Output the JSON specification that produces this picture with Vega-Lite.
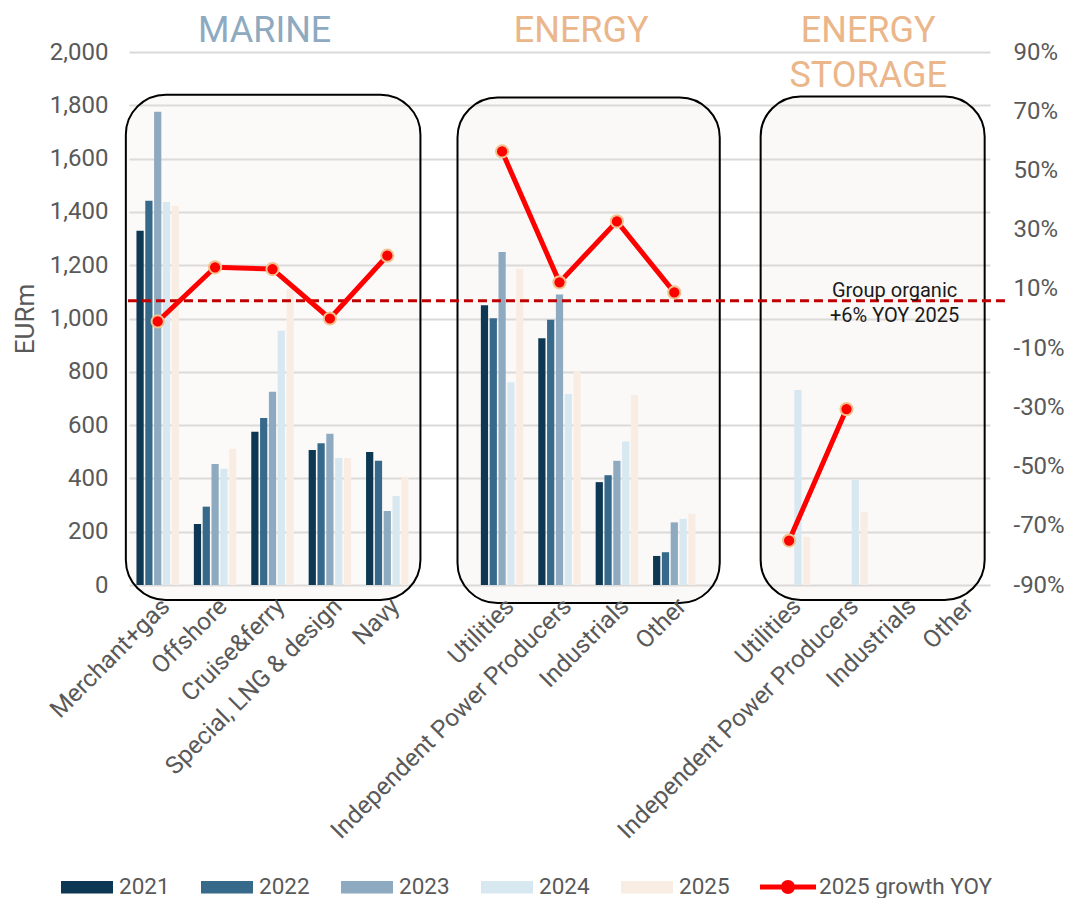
{
  "$schema": "https://vega.github.io/schema/vega-lite/v6.json",
  "width": 861,
  "height": 533,
  "autosize": {"type": "none"},
  "padding": {"left": 129, "top": 52, "right": 76, "bottom": 313},
  "background": "#ffffff",
  "config": {
    "font": "Roboto",
    "view": {"stroke": null},
    "axis": {
      "labelFont": "Roboto",
      "labelFontSize": 24,
      "labelColor": "#595959",
      "titleFont": "Roboto",
      "titleFontSize": 26,
      "titleFontWeight": "normal",
      "titleColor": "#595959",
      "domain": false,
      "ticks": false,
      "gridColor": "#d9d9d9",
      "gridWidth": 1.8
    },
    "legend": {
      "labelFont": "Roboto",
      "labelFontSize": 22.5,
      "labelColor": "#595959",
      "labelLimit": 400
    }
  },
  "datasets": {
    "sales": [
      {"cat": "M|Merchant+gas", "year": "2021", "value": 1329},
      {"cat": "M|Merchant+gas", "year": "2022", "value": 1442},
      {"cat": "M|Merchant+gas", "year": "2023", "value": 1776},
      {"cat": "M|Merchant+gas", "year": "2024", "value": 1437},
      {"cat": "M|Merchant+gas", "year": "2025", "value": 1423},
      {"cat": "M|Offshore", "year": "2021", "value": 229},
      {"cat": "M|Offshore", "year": "2022", "value": 294},
      {"cat": "M|Offshore", "year": "2023", "value": 454},
      {"cat": "M|Offshore", "year": "2024", "value": 436},
      {"cat": "M|Offshore", "year": "2025", "value": 511},
      {"cat": "M|Cruise&ferry", "year": "2021", "value": 575},
      {"cat": "M|Cruise&ferry", "year": "2022", "value": 627},
      {"cat": "M|Cruise&ferry", "year": "2023", "value": 725},
      {"cat": "M|Cruise&ferry", "year": "2024", "value": 954},
      {"cat": "M|Cruise&ferry", "year": "2025", "value": 1111},
      {"cat": "M|Special, LNG & design", "year": "2021", "value": 507},
      {"cat": "M|Special, LNG & design", "year": "2022", "value": 532},
      {"cat": "M|Special, LNG & design", "year": "2023", "value": 568},
      {"cat": "M|Special, LNG & design", "year": "2024", "value": 477},
      {"cat": "M|Special, LNG & design", "year": "2025", "value": 477},
      {"cat": "M|Navy", "year": "2021", "value": 499},
      {"cat": "M|Navy", "year": "2022", "value": 466},
      {"cat": "M|Navy", "year": "2023", "value": 278},
      {"cat": "M|Navy", "year": "2024", "value": 334},
      {"cat": "M|Navy", "year": "2025", "value": 404},
      {"cat": "E|Utilities", "year": "2021", "value": 1050},
      {"cat": "E|Utilities", "year": "2022", "value": 1001},
      {"cat": "E|Utilities", "year": "2023", "value": 1250},
      {"cat": "E|Utilities", "year": "2024", "value": 761},
      {"cat": "E|Utilities", "year": "2025", "value": 1187},
      {"cat": "E|Independent Power Producers", "year": "2021", "value": 926},
      {"cat": "E|Independent Power Producers", "year": "2022", "value": 995},
      {"cat": "E|Independent Power Producers", "year": "2023", "value": 1090},
      {"cat": "E|Independent Power Producers", "year": "2024", "value": 717},
      {"cat": "E|Independent Power Producers", "year": "2025", "value": 801},
      {"cat": "E|Industrials", "year": "2021", "value": 386},
      {"cat": "E|Industrials", "year": "2022", "value": 412},
      {"cat": "E|Industrials", "year": "2023", "value": 466},
      {"cat": "E|Industrials", "year": "2024", "value": 538},
      {"cat": "E|Industrials", "year": "2025", "value": 713},
      {"cat": "E|Other", "year": "2021", "value": 109},
      {"cat": "E|Other", "year": "2022", "value": 123},
      {"cat": "E|Other", "year": "2023", "value": 235},
      {"cat": "E|Other", "year": "2024", "value": 248},
      {"cat": "E|Other", "year": "2025", "value": 267},
      {"cat": "S|Utilities", "year": "2024", "value": 732},
      {"cat": "S|Utilities", "year": "2025", "value": 181},
      {"cat": "S|Independent Power Producers", "year": "2024", "value": 394},
      {"cat": "S|Independent Power Producers", "year": "2025", "value": 273}
    ],
    "growth": [
      {"cat": "M|Merchant+gas", "grp": "Marine", "growth": -1.0},
      {"cat": "M|Offshore", "grp": "Marine", "growth": 17.3},
      {"cat": "M|Cruise&ferry", "grp": "Marine", "growth": 16.7},
      {"cat": "M|Special, LNG & design", "grp": "Marine", "growth": 0.0},
      {"cat": "M|Navy", "grp": "Marine", "growth": 21.2},
      {"cat": "E|Utilities", "grp": "Energy", "growth": 56.4},
      {"cat": "E|Independent Power Producers", "grp": "Energy", "growth": 12.2},
      {"cat": "E|Industrials", "grp": "Energy", "growth": 32.8},
      {"cat": "E|Other", "grp": "Energy", "growth": 8.8},
      {"cat": "S|Utilities", "grp": "Energy storage", "growth": -75.0},
      {"cat": "S|Independent Power Producers", "grp": "Energy storage", "growth": -30.6}
    ],
    "sections": [
      {"label": "ENERGY", "cat": "E|Industrials"},
      {"label": "ENERGY\nSTORAGE", "cat": "S|Industrials"}
    ]
  },
  "encoding": {
    "x": {
      "field": "cat",
      "type": "nominal",
      "title": null,
      "sort": null,
      "scale": {
        "domain": [
          "M|Merchant+gas", "M|Offshore", "M|Cruise&ferry", "M|Special, LNG & design", "M|Navy",
          "gap1",
          "E|Utilities", "E|Independent Power Producers", "E|Industrials", "E|Other",
          "gap2",
          "S|Utilities", "S|Independent Power Producers", "S|Industrials", "S|Other"
        ],
        "paddingInner": 0.26,
        "paddingOuter": 0.13
      },
      "axis": {
        "title": null,
        "labelAngle": -45,
        "labelPadding": 9,
        "labelLimit": 400,
        "labelFontSize": 24.5,
        "grid": false,
        "labelExpr": "indexof(datum.value, '|') >= 0 ? split(datum.value, '|')[1] : ''"
      }
    }
  },
  "layer": [
    {
      "layer": [
        {
          "data": {"values": [{}]},
          "mark": {"type": "rect", "fill": "#e8e2dc", "fillOpacity": 0.18, "stroke": "#000000", "strokeWidth": 2, "cornerRadius": 40},
          "encoding": {
            "x": {"datum": "M|Merchant+gas", "bandPosition": -0.25},
            "x2": {"datum": "M|Navy", "bandPosition": 1.28},
            "y": {"datum": 1840},
            "y2": {"datum": -56}
          }
        },
        {
          "data": {"values": [{}]},
          "mark": {"type": "rect", "fill": "#e8e2dc", "fillOpacity": 0.2, "stroke": "#000000", "strokeWidth": 2, "cornerRadius": 40},
          "encoding": {
            "x": {"datum": "E|Utilities", "bandPosition": -0.55},
            "x2": {"datum": "E|Other", "bandPosition": 1.57},
            "y": {"datum": 1829},
            "y2": {"datum": -68}
          }
        },
        {
          "data": {"values": [{}]},
          "mark": {"type": "rect", "fill": "#e8e2dc", "fillOpacity": 0.2, "stroke": "#000000", "strokeWidth": 2, "cornerRadius": 40},
          "encoding": {
            "x": {"datum": "S|Utilities", "bandPosition": -0.17},
            "x2": {"datum": "S|Other", "bandPosition": 1.05},
            "y": {"datum": 1833},
            "y2": {"datum": -56}
          }
        },
        {
          "data": {"name": "sales"},
          "mark": {"type": "bar"},
          "encoding": {
            "xOffset": {"field": "year", "type": "nominal", "scale": {"paddingInner": 0.18, "paddingOuter": 0}},
            "y": {
              "field": "value",
              "type": "quantitative",
              "title": "EURm",
              "scale": {"domain": [0, 2000], "nice": false},
              "axis": {
                "orient": "left",
                "values": [0, 200, 400, 600, 800, 1000, 1200, 1400, 1600, 1800, 2000],
                "format": ",.0f",
                "grid": true,
                "labelPadding": 21,
                "titlePadding": 11
              }
            },
            "color": {
              "field": "year",
              "type": "nominal",
              "scale": {
                "domain": ["2021", "2022", "2023", "2024", "2025"],
                "range": ["#0d3752", "#37698a", "#8eaac0", "#d8e8f1", "#f9ede3"]
              },
              "legend": {
                "title": null,
                "orient": "none",
                "direction": "horizontal",
                "legendX": -68,
                "legendY": 809,
                "symbolType": "M-1,-0.245H1V0.245H-1Z",
                "symbolSize": 2704,
                "symbolStrokeWidth": 0,
                "symbolOpacity": 1,
                "labelOffset": 6,
                "columnPadding": 31
              }
            }
          }
        },
        {
          "data": {"values": [{}]},
          "mark": {"type": "text", "text": "MARINE", "fontSize": 36, "color": "#8eaac0", "align": "center", "baseline": "alphabetic"},
          "encoding": {
            "x": {"datum": "M|Cruise&ferry", "bandPosition": 0.315},
            "y": {"datum": 2039}
          }
        },
        {
          "data": {"name": "sections"},
          "mark": {"type": "text", "fontSize": 36, "color": "#eab68a", "align": "center", "baseline": "alphabetic", "lineBreak": "\n", "lineHeight": 45},
          "encoding": {
            "x": {"field": "cat", "type": "nominal", "bandPosition": -0.34, "title": null},
            "y": {"datum": 2039},
            "text": {"field": "label"}
          }
        }
      ]
    },
    {
      "layer": [
        {
          "data": {"values": [{}]},
          "mark": {"type": "rule", "color": "#c00000", "strokeWidth": 3, "strokeDash": [9, 5]},
          "encoding": {
            "x": {"datum": "M|Merchant+gas", "bandPosition": -0.2},
            "x2": {"datum": "S|Other", "bandPosition": 1.59},
            "y": {"datum": 6}
          }
        },
        {
          "data": {"name": "growth"},
          "mark": {"type": "line", "strokeWidth": 5, "strokeCap": "round", "strokeJoin": "round"},
          "encoding": {
            "detail": {"field": "grp"},
            "y": {
              "field": "growth",
              "type": "quantitative",
              "title": null,
              "scale": {"domain": [-90, 90], "nice": false},
              "axis": {
                "orient": "right",
                "title": null,
                "values": [-90, -70, -50, -30, -10, 10, 30, 50, 70, 90],
                "labelExpr": "datum.value + '%'",
                "grid": false,
                "labelPadding": 23
              }
            },
            "color": {
              "datum": "2025 growth YOY",
              "scale": {"range": ["#ff0000"]},
              "legend": {
                "title": null,
                "orient": "none",
                "legendX": 631,
                "legendY": 807,
                "symbolType": "M-1,-0.09H1V0.09H-1Z M-0.25,0A0.25,0.25 0 1 1 0.25,0A0.25,0.25 0 1 1 -0.25,0Z",
                "symbolSize": 3136,
                "labelOffset": 3,
                "labelLimit": 400,
                "encode": {
                  "symbols": {
                    "update": {
                      "fill": {"value": "#ff0000"},
                      "stroke": {"value": "#ff0000"},
                      "strokeWidth": {"value": 0},
                      "opacity": {"value": 1}
                    }
                  }
                }
              }
            }
          }
        },
        {
          "data": {"name": "growth"},
          "mark": {"type": "circle", "size": 150, "fill": "#ff0000", "stroke": "#f2c28e", "strokeWidth": 2, "opacity": 1},
          "encoding": {
            "y": {"field": "growth", "type": "quantitative", "title": null}
          }
        },
        {
          "data": {"values": [{}]},
          "mark": {"type": "text", "text": "Group organic\n+6% YOY 2025", "lineBreak": "\n", "lineHeight": 25, "fontSize": 20, "color": "#1a1a1a", "align": "center", "baseline": "alphabetic"},
          "encoding": {
            "x": {"datum": "S|Industrials", "bandPosition": 0.28},
            "y": {"datum": 7.4}
          }
        }
      ]
    }
  ],
  "resolve": {"scale": {"y": "independent", "color": "independent"}}
}
